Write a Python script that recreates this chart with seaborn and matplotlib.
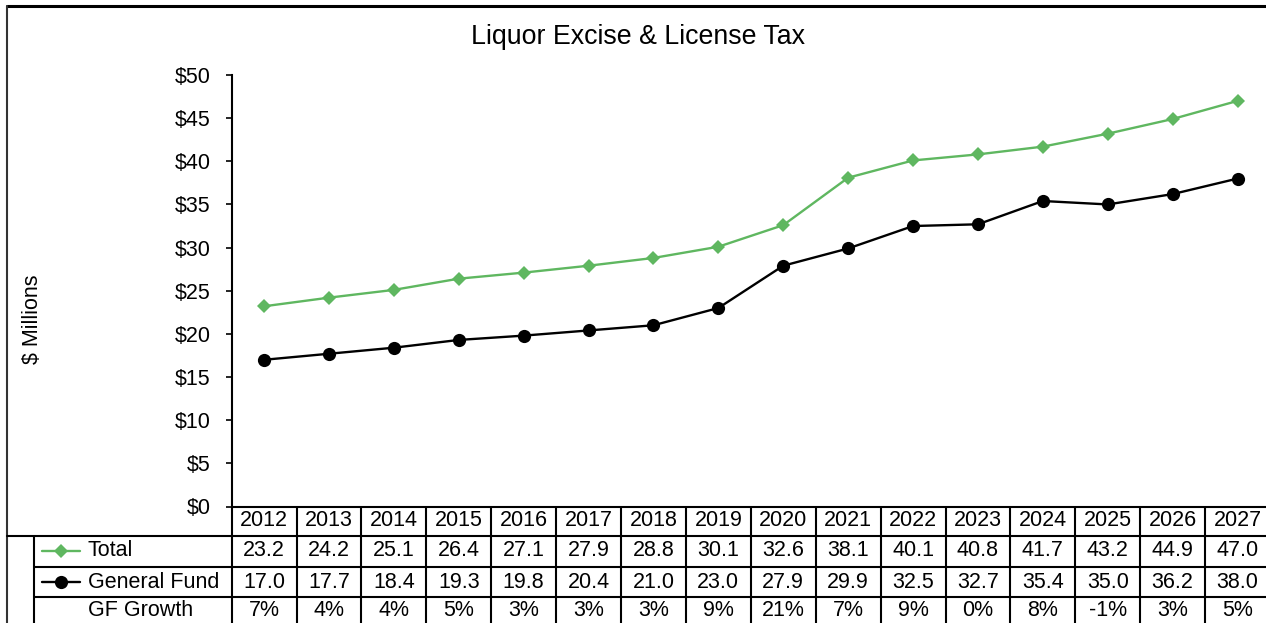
import numpy as np
import pandas as pd
import matplotlib
matplotlib.use("Agg")
import matplotlib.pyplot as plt
from matplotlib.lines import Line2D
import seaborn as sns

# Data
years = [2012, 2013, 2014, 2015, 2016, 2017, 2018, 2019,
         2020, 2021, 2022, 2023, 2024, 2025, 2026, 2027]
total = [23.2, 24.2, 25.1, 26.4, 27.1, 27.9, 28.8, 30.1,
         32.6, 38.1, 40.1, 40.8, 41.7, 43.2, 44.9, 47.0]
general_fund = [17.0, 17.7, 18.4, 19.3, 19.8, 20.4, 21.0, 23.0,
                27.9, 29.9, 32.5, 32.7, 35.4, 35.0, 36.2, 38.0]
gf_growth = ["7%", "4%", "4%", "5%", "3%", "3%", "3%", "9%",
             "21%", "7%", "9%", "0%", "8%", "-1%", "3%", "5%"]
y_ticks = [0, 5, 10, 15, 20, 25, 30, 35, 40, 45, 50]

title = "Liquor Excise & License Tax"
green = "#5fb760"

sns.set_style("white")
plt.rcParams['font.family'] = ['Liberation Sans', 'DejaVu Sans']
plt.rcParams['text.color'] = 'black'
plt.rcParams['ytick.labelcolor'] = 'black'

W, H = 1266, 623
fig = plt.figure(figsize=(W / 100, H / 100), dpi=100)
FS = 15.5

def fx(px):
    return px / W

def fy(py):
    return 1 - py / H

# main plot area (right edge runs off the picture like the original)
ax_l, ax_r, ax_t, ax_b = 231.6, 1270, 75, 506.5
ax = fig.add_axes([fx(ax_l), fy(ax_b), fx(ax_r - ax_l), (ax_b - ax_t) / H])

df = pd.DataFrame({"idx": np.arange(len(years)), "total": total, "gf": general_fund})
sns.lineplot(data=df, x="idx", y="total", ax=ax, color=green, lw=1.7,
             marker="D", markersize=7.5, markeredgewidth=0, markeredgecolor=green)
sns.lineplot(data=df, x="idx", y="gf", ax=ax, color="black", lw=1.7,
             marker="o", markersize=9.5, markeredgewidth=0)

ax.set_xlim(-0.5, len(years) - 0.5)
ax.set_ylim(0, 50)
ax.set_yticks(y_ticks)
ax.set_yticklabels([f"${v}" for v in y_ticks], fontsize=FS, color="black")
ax.set_xticks([])
ax.set_xlabel("")
ax.set_ylabel("")
ax.tick_params(axis="y", left=True, length=4, width=1.2, pad=11, color="black")
for s in ["top", "right"]:
    ax.spines[s].set_visible(False)
for s in ["left", "bottom"]:
    ax.spines[s].set_color("black")
    ax.spines[s].set_linewidth(1.5)

# data table under the chart, positioned with the x scale of the axes
tr = ax.get_xaxis_transform()
span = ax_b - ax_t

def ay(py):
    return (ax_b - py) / span

rows_y = [521, 551, 582, 611]
row_lines = [535.5, 567, 597]
bottom = 623

for i, yr in enumerate(years):
    ax.text(i, ay(rows_y[0]), str(yr), transform=tr, ha="center", va="center",
            fontsize=FS, clip_on=False)
    ax.text(i, ay(rows_y[1]), f"{total[i]:.1f}", transform=tr, ha="center",
            va="center", fontsize=FS, clip_on=False)
    ax.text(i, ay(rows_y[2]), f"{general_fund[i]:.1f}", transform=tr, ha="center",
            va="center", fontsize=FS, clip_on=False)
    ax.text(i, ay(rows_y[3]), gf_growth[i], transform=tr, ha="center",
            va="center", fontsize=FS, clip_on=False)

seps = np.arange(len(years)) + 0.5
ax.vlines(seps, ay(bottom), 0, transform=tr, colors="black", lw=1.5, clip_on=False)
ax.vlines([-0.5], ay(bottom), 0, transform=tr, colors="black", lw=1.5, clip_on=False)
for ly in row_lines:
    ax.hlines(ay(ly), -0.5, len(years), transform=tr, colors="black", lw=1.5, clip_on=False)

# left part of the table and the outer frame, in figure coords
def fline(x0, y0, x1, y1, **kw):
    fig.add_artist(Line2D([fx(x0), fx(x1)], [fy(y0), fy(y1)], transform=fig.transFigure, **kw))

fline(7, 6, W, 6, color="black", lw=2.2)
fline(7, 6, 7, H, color="#333333", lw=1.5)
fline(7, 535.5, ax_l, 535.5, color="black", lw=1.5)
fline(34, 567, ax_l, 567, color="black", lw=1.5)
fline(34, 597, ax_l, 597, color="black", lw=1.5)
fline(34, 535.5, 34, H, color="black", lw=1.5)

# legend keys
fig.add_artist(Line2D([fx(42), fx(61), fx(80)], [fy(551)] * 3, transform=fig.transFigure,
                      color=green, lw=1.7, marker="D", markersize=7.5,
                      markeredgewidth=0, markevery=[1]))
fig.add_artist(Line2D([fx(42), fx(61), fx(80)], [fy(582)] * 3, transform=fig.transFigure,
                      color="black", lw=1.7, marker="o", markersize=9.5,
                      markeredgewidth=0, markevery=[1]))
fig.text(fx(88), fy(551), "Total", ha="left", va="center", fontsize=FS)
fig.text(fx(88), fy(582), "General Fund", ha="left", va="center", fontsize=FS)
fig.text(fx(88), fy(611), "GF Growth", ha="left", va="center", fontsize=FS)

fig.text(fx(638), fy(37), title, ha="center", va="center", fontsize=19.3)
fig.text(fx(32), fy(319), "$ Millions", ha="center", va="center", rotation=90, fontsize=FS)

fig.savefig("out.png", dpi=100)
